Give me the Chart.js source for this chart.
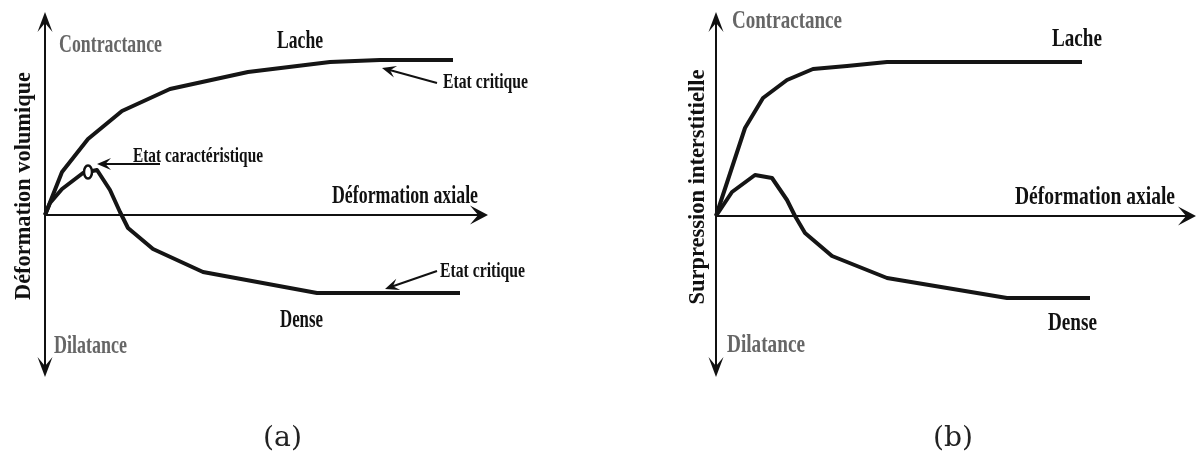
<!DOCTYPE html>
<html><head><meta charset="utf-8">
<script src="https://cdn.jsdelivr.net/npm/chart.js@4.4.1/dist/chart.umd.min.js"></script>
<style>
html,body{margin:0;padding:0;background:#fff;overflow:hidden}
#wrap{position:relative;width:1198px;height:453px;background:#fff}
canvas{position:absolute;top:0}
#ca{left:0}#cb{left:599px}
</style></head><body>
<div id="wrap"><canvas id="ca" width="599" height="453"></canvas><canvas id="cb" width="599" height="453"></canvas></div>
<script>
// ---- Data (axial strain on x, arbitrary units; response on y) ----
// Panel (a): volumetric strain
const lacheA_x = [0, 0.85, 2.15, 3.85, 6.25, 10.15, 14.25, 16.75, 20.4];
const lacheA_y = [0, 1.72, 3.04, 4.16, 5.04, 5.72, 6.12, 6.2, 6.2];
const denseA_x = [0, 0.25, 0.85, 1.9, 2.6, 3.25, 3.75, 4.15, 5.4, 7.9, 13.6, 20.75];
const denseA_y = [0, 0.48, 1.04, 1.68, 1.8, 1.0, 0.12, -0.52, -1.36, -2.28, -3.12, -3.12];
const charA = [2.15, 1.72]; // état caractéristique
// Panel (b): excess pore pressure
const lacheB_x = [0, 1.45, 2.35, 3.55, 4.85, 6.55, 8.55, 18.3];
const lacheB_y = [0, 3.52, 4.72, 5.44, 5.88, 6.0, 6.16, 6.16];
const denseB_x = [0, 0.8, 1.95, 2.8, 3.55, 3.95, 4.45, 5.8, 8.55, 14.55, 18.7];
const denseB_y = [0, 0.96, 1.64, 1.52, 0.64, 0, -0.68, -1.6, -2.48, -3.28, -3.28];

const xy = (xs, ys) => xs.map((x, i) => ({x, y: ys[i]}));

function arrowHead(ctx, tx, ty, ang, len, hw, notch){
  ctx.save(); ctx.translate(tx, ty); ctx.rotate(ang);
  ctx.beginPath(); ctx.moveTo(0,0); ctx.lineTo(-len,-hw); ctx.lineTo(-len*notch,0); ctx.lineTo(-len,hw); ctx.closePath();
  ctx.fill(); ctx.restore();
}
function fitText(ctx, t){
  ctx.save();
  ctx.font = (t.weight || 'bold') + ' ' + t.size + 'px ' + (t.family || '"Liberation Serif", "Times New Roman", serif');
  const m = ctx.measureText(t.text).width;
  const sx = t.w / m;
  ctx.fillStyle = t.color || '#111';
  ctx.textBaseline = 'alphabetic';
  ctx.translate(t.x, t.y);
  if (t.rot) { ctx.rotate(-Math.PI/2); ctx.scale(sx,1); ctx.textAlign='center'; }
  else { ctx.scale(sx,1); ctx.textAlign='left'; }
  ctx.fillText(t.text, 0, 0);
  ctx.restore();
}

const decor = {
  id: 'decor',
  beforeDatasetsDraw(chart, args, o){
    const ctx = chart.ctx, xs = chart.scales.x, ys = chart.scales.y;
    const X = v => xs.getPixelForValue(v), Y = v => ys.getPixelForValue(v);
    ctx.save();
    ctx.strokeStyle = '#111'; ctx.fillStyle = '#111'; ctx.lineWidth = 2;
    ctx.beginPath(); ctx.moveTo(X(0), Y(o.yTop) + 8); ctx.lineTo(X(0), Y(o.yBot) - 8); ctx.stroke();
    arrowHead(ctx, X(0), Y(o.yTop), -Math.PI/2, 20, 7.5, 0.55);
    arrowHead(ctx, X(0), Y(o.yBot), Math.PI/2, 20, 7.5, 0.55);
    ctx.beginPath(); ctx.moveTo(X(0), Y(0)); ctx.lineTo(X(o.xEnd) - 8, Y(0)); ctx.stroke();
    arrowHead(ctx, X(o.xEnd), Y(0), 0, 18, 9.5, 0.55);
    ctx.restore();
  },
  afterDatasetsDraw(chart, args, o){
    const ctx = chart.ctx, xs = chart.scales.x, ys = chart.scales.y;
    const X = v => xs.getPixelForValue(v), Y = v => ys.getPixelForValue(v);
    ctx.save();
    ctx.strokeStyle = '#111'; ctx.fillStyle = '#111'; ctx.lineWidth = 2;
    (o.pointers || []).forEach(p => {
      const x1 = X(p.from[0]), y1 = Y(p.from[1]), x2 = X(p.to[0]), y2 = Y(p.to[1]);
      const a = Math.atan2(y2 - y1, x2 - x1);
      ctx.beginPath(); ctx.moveTo(x1, y1); ctx.lineTo(x2 - 6*Math.cos(a), y2 - 6*Math.sin(a)); ctx.stroke();
      arrowHead(ctx, x2, y2, a, 14, 6, 0.6);
    });
    if (o.marker) {
      ctx.fillStyle = '#fff'; ctx.lineWidth = 2.5;
      ctx.beginPath(); ctx.ellipse(X(o.marker[0]), Y(o.marker[1]), 4, 6.5, 0, 0, Math.PI*2); ctx.fill(); ctx.stroke();
    }
    ctx.restore();
    (o.labels || []).forEach(t => fitText(ctx, t));
  }
};

function curve(data){
  return {data, borderColor:'#151515', borderWidth:4, pointRadius:0, tension:0, fill:false,
          borderCapStyle:'butt', borderJoinStyle:'round'};
}
function makeChart(id, datasets, range, deco){
  return new Chart(document.getElementById(id), {
    type: 'line',
    data: {datasets},
    options: {
      responsive:false, animation:false, events:[],
      layout:{padding:0},
      plugins:{legend:{display:false}, tooltip:{enabled:false}, decor: deco},
      scales:{
        x:{type:'linear', display:false, min:range[0], max:range[1]},
        y:{type:'linear', display:false, min:range[2], max:range[3]}
      }
    },
    plugins:[decor]
  });
}

makeChart('ca', [curve(xy(lacheA_x, lacheA_y)), curve(xy(denseA_x, denseA_y))],
  [-2.25, 27.7, -9.52, 8.6],
  {
    yTop: 8.12, yBot: -6.48, xEnd: 22.15,
    marker: charA,
    pointers: [
      {from:[5.75, 2.04], to:[2.6, 2.04]},
      {from:[19.6, 5.28], to:[16.85, 5.88]},
      {from:[19.6, -2.24], to:[17.0, -2.96]}
    ],
    labels: [
      {text:'Contractance', x:59, y:52, w:103, size:25, color:'#666'},
      {text:'Lache', x:277, y:48, w:46, size:25},
      {text:'Etat critique', x:443, y:88, w:85, size:22},
      {text:'Etat caractéristique', x:133, y:162, w:130, size:22},
      {text:'Déformation axiale', x:332, y:203, w:146, size:25},
      {text:'Etat critique', x:440, y:277, w:85, size:22},
      {text:'Dense', x:280, y:327, w:43, size:25},
      {text:'Dilatance', x:54, y:353, w:73, size:25, color:'#666'},
      {text:'Déformation volumique', x:30, y:186, w:228, size:24, rot:true},
      {text:'(a)', x:263, y:446, w:39, size:28, weight:'normal', family:'"DejaVu Serif", serif', color:'#222'}
    ]
  });

makeChart('cb', [curve(xy(lacheB_x, lacheB_y)), curve(xy(denseB_x, denseB_y))],
  [-5.85, 24.1, -9.48, 8.64],
  {
    yTop: 8.16, yBot: -6.44, xEnd: 24.0,
    labels: [
      {text:'Contractance', x:133, y:28, w:110, size:25, color:'#666'},
      {text:'Lache', x:453, y:46, w:50, size:25},
      {text:'Déformation axiale', x:416, y:204, w:160, size:25},
      {text:'Dense', x:449, y:330, w:49, size:25},
      {text:'Dilatance', x:128, y:352, w:78, size:25, color:'#666'},
      {text:'Surpression interstitielle', x:105, y:187, w:235, size:24, rot:true},
      {text:'(b)', x:334, y:446, w:40, size:28, weight:'normal', family:'"DejaVu Serif", serif', color:'#222'}
    ]
  });
</script>
</body></html>
